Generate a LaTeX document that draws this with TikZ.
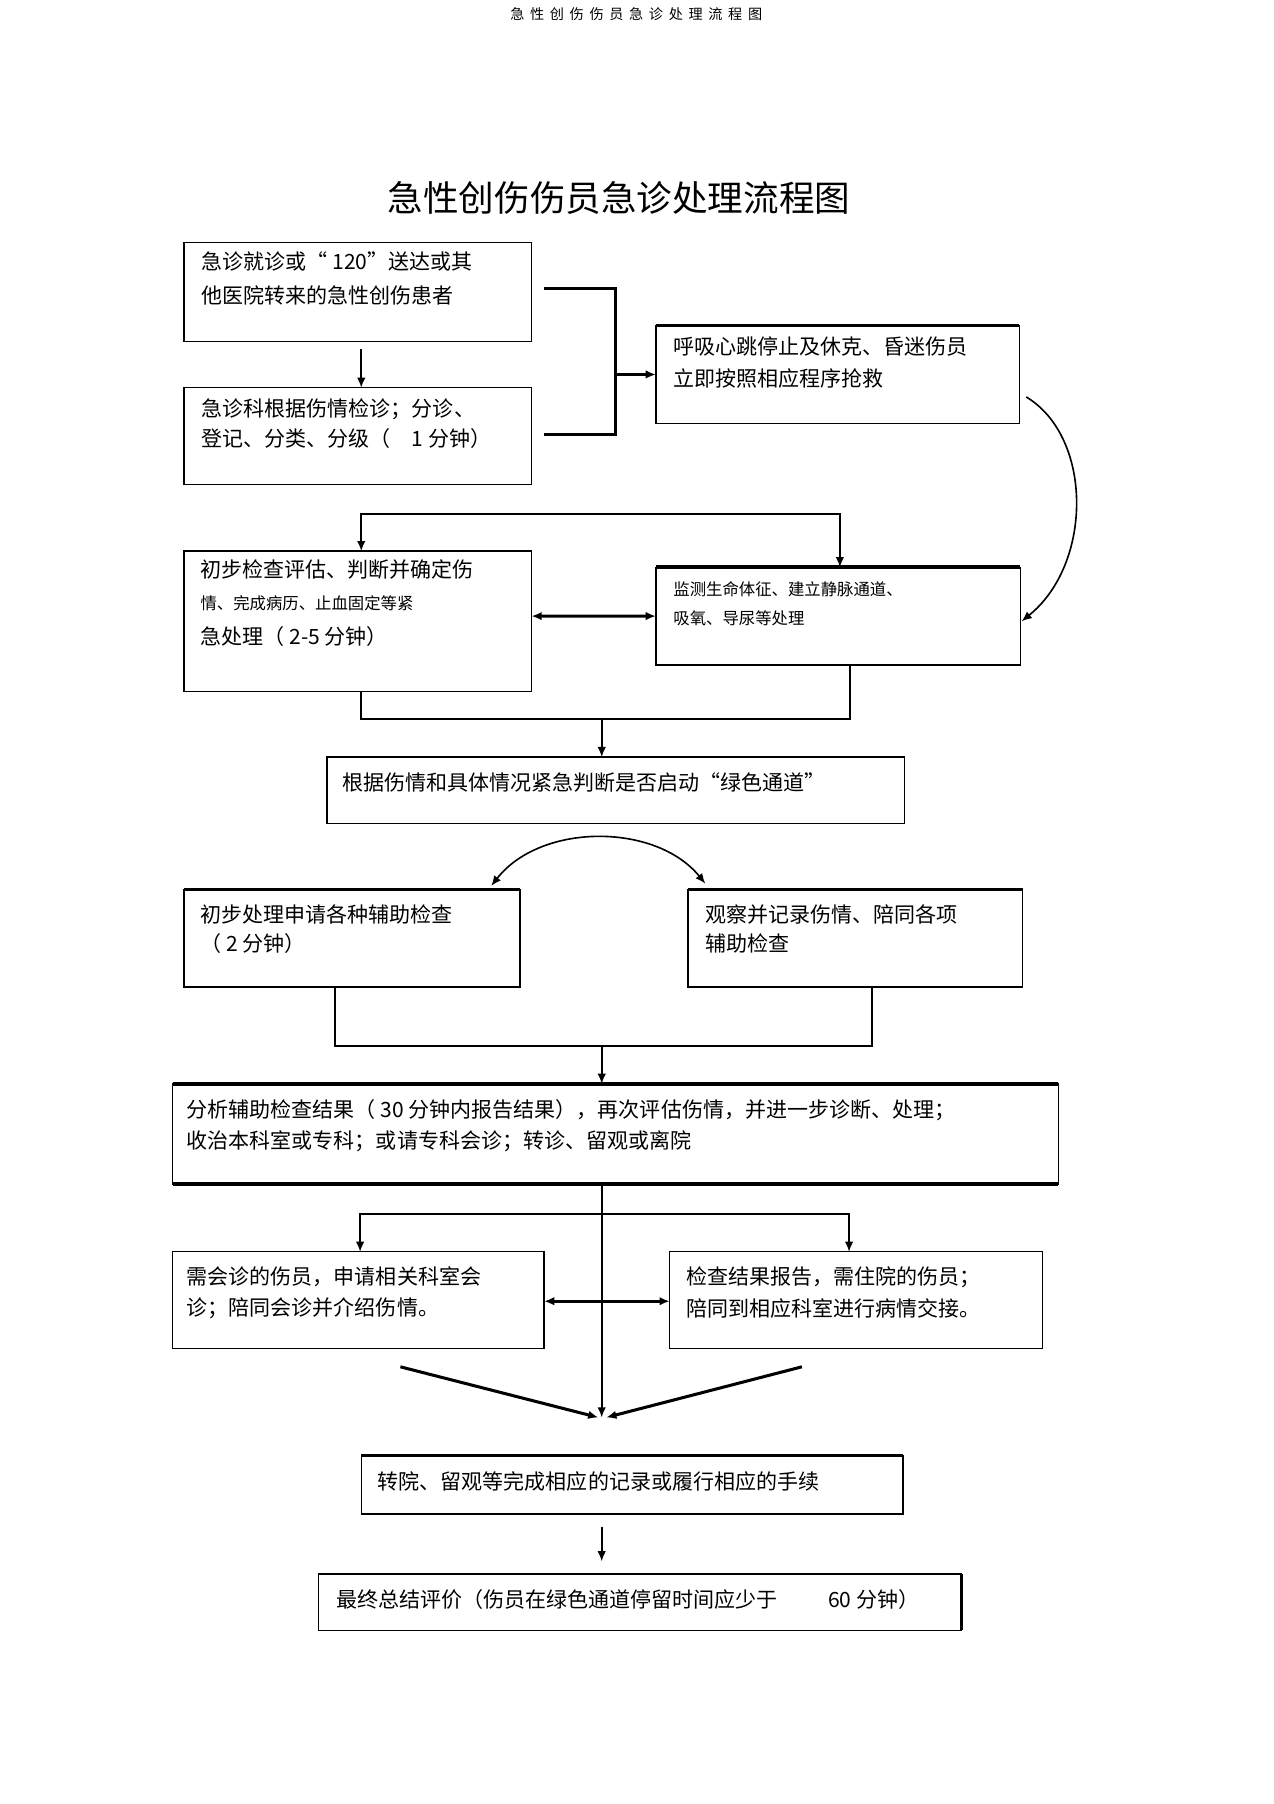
\documentclass[tikz,border=0pt]{standalone}
\usepackage{fontspec}
\setmainfont{Noto Sans CJK SC}
\usetikzlibrary{arrows.meta,calc}
\begin{document}
\begin{tikzpicture}[x=0.02cm,y=0.02cm,
  box/.style={draw, line width=0.7pt, inner sep=0pt, outer sep=0pt},
  txt/.style={anchor=west, inner sep=0pt, font=\fontsize{10.4}{12}\selectfont},
  stxt/.style={anchor=west, inner sep=0pt, font=\fontsize{8.1}{10}\selectfont},
  tip/.tip={Latex[length=5pt,width=4.2pt]},
  arr/.style={-tip, line width=0.8pt},
  dbl/.style={tip-tip, line width=0.8pt},
  thk/.style={line width=1.5pt},
  edge/.style={line width=1.7pt}]
\useasboundingbox (0,0) rectangle (1107,-1568);

% header and title
\node[inner sep=0pt, font=\fontsize{7}{8}\selectfont\addfontfeatures{LetterSpace=40}] (hdr) at (553,-12) {急性创伤伤员急诊处理流程图};
\node[inner sep=0pt, font=\fontsize{17.6}{20}\selectfont] (title) at (538,-172) {急性创伤伤员急诊处理流程图};

% boxes
\node[box, minimum width=6.04cm, minimum height=1.72cm] (b1) at (311,-254) {};
\node[box, minimum width=6.04cm, minimum height=1.68cm] (b2) at (311,-379) {};
\node[box, minimum width=6.32cm, minimum height=1.70cm] (b3) at (728,-325.5) {};
\node[box, minimum width=6.04cm, minimum height=2.44cm] (b4) at (311,-540) {};
\node[box, minimum width=6.34cm, minimum height=1.70cm] (b5) at (728.5,-535.5) {};
\node[box, minimum width=10.04cm, minimum height=1.16cm] (b6) at (535,-687) {};
\node[box, minimum width=5.84cm, minimum height=1.70cm] (b7) at (306,-815.5) {};
\node[box, minimum width=5.82cm, minimum height=1.70cm] (b8) at (743.5,-815.5) {};
\node[box, minimum width=15.4cm, minimum height=1.74cm] (b9) at (535,-985.5) {};
\node[box, minimum width=6.46cm, minimum height=1.68cm] (b10) at (311.5,-1130) {};
\node[box, minimum width=6.48cm, minimum height=1.68cm] (b11) at (744,-1130) {};
\node[box, minimum width=9.42cm, minimum height=1.02cm] (b12) at (549.5,-1290.5) {};
\node[box, minimum width=11.18cm, minimum height=0.98cm] (b13) at (556.5,-1392.5) {};

% heavier edges
\draw[edge] (b3.north west) -- (b3.north east);
\draw[edge] (b5.north west) -- (b5.north east);
\draw[edge] (b7.north west) -- (b7.north east);
\draw[edge] (b8.north west) -- (b8.north east);
\draw[edge] (b9.north west) -- (b9.north east);
\draw[edge] (b9.south west) -- (b9.south east);
\draw[edge] (b12.north west) -- (b12.north east);
\draw[edge] (b13.north east) -- (b13.south east);

% texts
\node[txt] (t1a) at (175,-227) {急诊就诊或“ 120”送达或其};
\node[txt] (t1b) at (175,-257) {他医院转来的急性创伤患者};
\node[txt] (t2a) at (175,-356) {急诊科根据伤情检诊；分诊、};
\node[txt] (t2b) at (175,-381) {登记、分类、分级（\hspace{1em}1 分钟）};
\node[txt] (t3a) at (585,-301) {呼吸心跳停止及休克、昏迷伤员};
\node[txt] (t3b) at (585,-329) {立即按照相应程序抢救};
\node[txt] (t4a) at (174,-495) {初步检查评估、判断并确定伤};
\node[stxt] (t4b) at (174,-524) {情、完成病历、止血固定等紧};
\node[txt] (t4c) at (174,-553) {急处理（ 2-5 分钟）};
\node[stxt] (t5a) at (585,-512) {监测生命体征、建立静脉通道、};
\node[stxt] (t5b) at (585,-537) {吸氧、导尿等处理};
\node[txt] (t6) at (297,-680) {根据伤情和具体情况紧急判断是否启动“绿色通道”};
\node[txt] (t7a) at (174,-795) {初步处理申请各种辅助检查};
\node[txt] (t7b) at (174,-820) {（ 2 分钟）};
\node[txt] (t8a) at (613,-795) {观察并记录伤情、陪同各项};
\node[txt] (t8b) at (613,-820) {辅助检查};
\node[txt] (t9a) at (162,-965) {分析辅助检查结果（ 30 分钟内报告结果），再次评估伤情，并进一步诊断、处理；};
\node[txt] (t9b) at (162,-992) {收治本科室或专科；或请专科会诊；转诊、留观或离院};
\node[txt] (t10a) at (162,-1110) {需会诊的伤员，申请相关科室会};
\node[txt] (t10b) at (162,-1137) {诊；陪同会诊并介绍伤情。};
\node[txt] (t11a) at (596,-1110) {检查结果报告，需住院的伤员；};
\node[txt] (t11b) at (596,-1137) {陪同到相应科室进行病情交接。};
\node[txt] (t12) at (328,-1288) {转院、留观等完成相应的记录或履行相应的手续};
\node[txt] (t13) at (292,-1390) {最终总结评价（伤员在绿色通道停留时间应少于\hspace{2.4em}60 分钟）};

% connectors
\draw[arr] ($(b1.south)+(3,-6)$) -- ($(b2.north)+(3,0)$);
\coordinate (jn) at (535,-325.5);
\draw[thk] ($(b1.east)+(11,3)$) -| (jn) |- ($(b2.east)+(11,1)$);
\draw[arr, thk] (jn) -- (b3.west);
\draw[arr] ($(b3.east)+(6,-19.5)$) .. controls (950,-380) and (950,-490) .. ($(b5.east)+(1,-4.5)$);

\coordinate (tb) at (523,-447);
\draw[dbl] ($(b4.north)+(3,0)$) |- (tb) -| ($(b5.north)+(1.5,0)$);
\draw[dbl, thk] ($(b4.east)+(0,4.5)$) -- (b5.west);

\coordinate (m1) at (523,-625);
\draw[line width=0.8pt] ($(b4.south)+(3,0)$) |- (m1) -| ($(b5.south)+(10.5,0)$);
\draw[arr] (m1) -- ($(b6.north)+(-12,0)$);

\draw[dbl] ($(b7.north east)+(-25,3)$) .. controls (470,-715) and (570,-715) .. ($(b8.north west)+(15,5)$);

\coordinate (m2) at (523,-909);
\draw[line width=0.8pt] ($(b7.south)+(-15,0)$) |- (m2) -| ($(b8.south)+(14.5,0)$);
\draw[arr] (m2) -- ($(b9.north)+(-12,0)$);

\coordinate (cv) at (523,-1232);
\draw[arr] ($(b9.south)+(-12,0)$) -- (cv);
\coordinate (br) at (523,-1055);
\draw[dbl] ($(b10.north)+(1.5,0)$) |- (br) -| ($(b11.north)+(-6,0)$);
\draw[dbl, thk] ($(b10.east)+(0,-1)$) -- ($(b11.west)+(0,-1)$);
\draw[arr, thk] ($(b10.south)+(36.5,-16)$) -- ($(cv)+(-3,0)$);
\draw[arr, thk] ($(b11.south)+(-47,-16)$) -- ($(cv)+(4,0)$);

\draw[arr] ($(b12.south)+(-26.5,-11)$) -- ($(b13.north)+(-33.5,11)$);
\end{tikzpicture}
\end{document}
